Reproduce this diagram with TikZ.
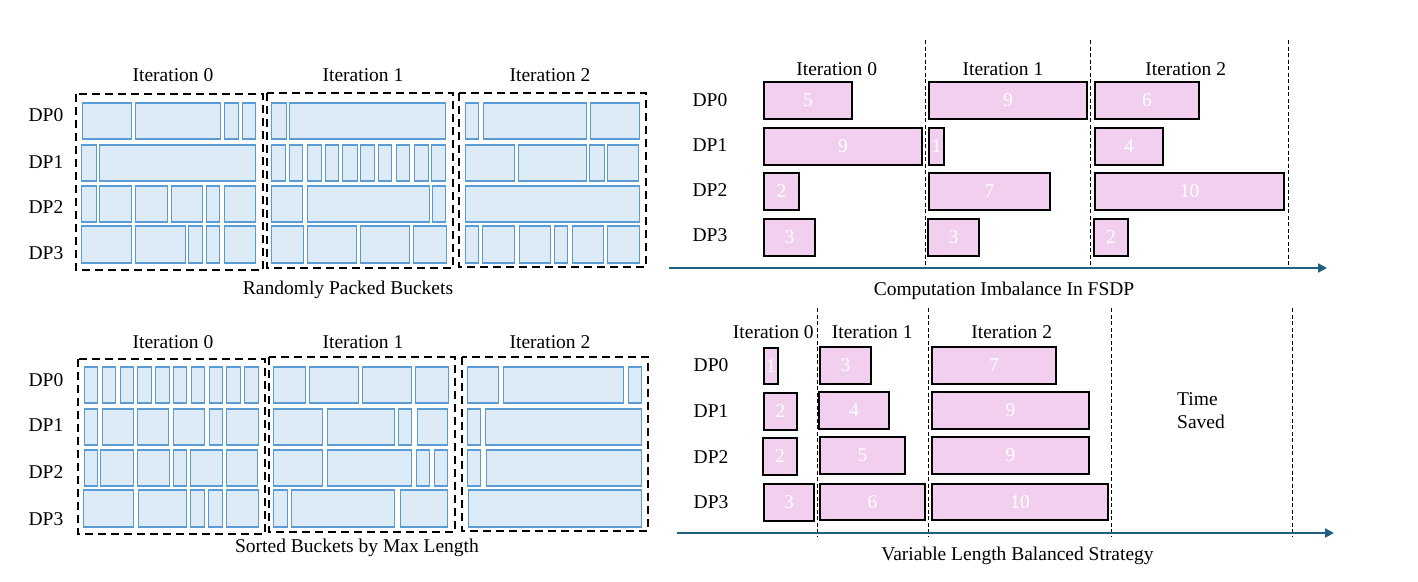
\documentclass[tikz,border=0pt]{standalone}
\usepackage{fontspec}
\setmainfont{Liberation Serif}
\usetikzlibrary{arrows.meta,positioning,fit}
\definecolor{bucketfill}{RGB}{221,235,247}
\definecolor{bucketline}{RGB}{91,155,213}
\definecolor{jobfill}{RGB}{242,207,238}
\definecolor{axisblue}{RGB}{31,95,130}

\begin{document}
\begin{tikzpicture}[
    x=1pt, y=-1pt,
    >=Stealth,
    every node/.style={font=\fontsize{19.5}{23}\selectfont},
    lbl/.style={inner sep=0pt},
    num/.style={inner sep=0pt, text=white},
    bucket/.style={draw=bucketline, fill=bucketfill, line width=1.3pt},
    group/.style={draw=black, dash pattern=on 8pt off 5pt, line width=2.8pt},
    job/.style={draw=black, fill=jobfill, line width=1.3pt, inner sep=0pt},
    sep/.style={draw=black, dash pattern=on 4pt off 2.5pt, line width=1.2pt},
    axis/.style={draw=axisblue, line width=2.8pt,
      -{Triangle[length=9pt,width=9pt]}}
  ]
  \useasboundingbox (0,0) rectangle (1418,581);

  % left: buckets per DP rank
  \foreach \ya/\yb/\cells in {
      103/139/{82/132,135/221,224/239,242/256,271/287,289/446,465/479,483/587,590/640},
      145/181/{81/97,99/256,271/286,289/303,307/322,325/339,342/358,360/375,378/392,396/410,414/429,431/446,465/515,518/587,589/605,607/639},
      186/222/{81/97,99/132,135/168,171/203,206/220,224/256,271/303,307/430,432/446,465/640},
      226/263/{81/132,135/186,188/203,206/220,224/256,271/304,307/357,360/410,413/447,465/479,482/515,519/551,554/568,572/604,607/640},
      367/403/{84/98,102/116,120/134,137/152,155/170,173/187,191/205,209/223,226/241,244/259,273/306,309/359,362/412,415/449,467/499,503/624,628/642},
      409/445/{84/98,102/134,137/169,173/205,209/223,226/259,273/323,327/395,398/412,417/448,467/481,485/642},
      450/486/{84/98,100/134,137/170,173/187,190/223,226/258,273/323,327/412,416/430,434/448,467/481,486/642},
      490/527/{83/134,138/187,190/205,208/223,226/259,273/288,291/395,400/448,468/642}}
  {\foreach \xa/\xb in \cells {\draw[bucket] (\xa+0.5,\ya) rectangle (\xb-0.5,\yb);}}

  \draw[group] (76,94) rectangle (263,270);
  \draw[group] (267,93) rectangle (453,268);
  \draw[group] (459,93) rectangle (646,267);
  \draw[group] (78,359) rectangle (265,534);
  \draw[group] (269,357) rectangle (455,532);
  \draw[group] (462,357) rectangle (648,531);

  \foreach \i/\x in {0/173,1/363,2/550} {
    \node[lbl, anchor=base] (rit\i) at (\x,81) {Iteration \i};
    \node[lbl, anchor=base] (sit\i) at (\x,348.3) {Iteration \i};
  }
  \foreach \i/\ya/\yb in {0/121.7/386.7,1/168.3/431.7,2/213.3/478.3,3/259/525} {
    \node[lbl, anchor=base] (rdp\i) at (46,\ya) {DP\i};
    \node[lbl, anchor=base] (sdp\i) at (46,\yb) {DP\i};
  }
  \node[lbl, anchor=base] (rcap) at (348,294) {Randomly Packed Buckets};
  \node[lbl, anchor=base] (scap) at (357,552) {Sorted Buckets by Max Length};

  % right top: computation imbalance
  \foreach \n/\x in {a/925.7,b/1090.3,c/1288.3} {
    \coordinate (fs\n) at (\x,40);
    \coordinate (fe\n) at (\x,268);
    \draw[sep] (fs\n) -- (fe\n);
  }
  \foreach \n/\xa/\ya/\xb/\yb/\t in {
      f00/764/82/852/119/5, f01/764/128/922/165/9, f02/764/173/799/210/2,
      f03/764/219/815/256/3, f10/929/82/1087/119/9, f11/929/128/944/165/1,
      f12/929/173/1050/210/7, f13/928/219/979/256/3, f20/1095/82/1199/119/6,
      f21/1095/128/1163/165/4, f22/1095/173/1284/210/10, f23/1094/219/1128/256/2}
    \node[job, fit={(\xa,\ya) (\xb,\yb)}, label={[num]center:\t}] (\n) {};
  \coordinate (fax0) at (669,268);
  \coordinate (fax1) at (1327,268);
  \draw[axis] (fax0) -- (fax1);
  \node[lbl, anchor=base] (fit0) at (836.7,75) {Iteration 0};
  \node[lbl, anchor=base] (fit1) at (1003,75) {Iteration 1};
  \node[lbl, anchor=base] (fit2) at (1185.7,75) {Iteration 2};
  \foreach \i/\y in {0/106,1/151,2/196.7,3/241.7}
    \node[lbl, anchor=base] (fdp\i) at (710,\y) {DP\i};
  \node[lbl, anchor=base] (fcap) at (1004,295.5) {Computation Imbalance In FSDP};

  % right bottom: balanced strategy
  \foreach \n/\x in {a/817.3,b/928.3,c/1111.7,d/1292.3} {
    \coordinate (vs\n) at (\x,308);
    \coordinate (ve\n) at (\x,536);
    \draw[sep] (vs\n) -- (ve\n);
  }
  \foreach \n/\xa/\ya/\xb/\yb/\t in {
      v00/764/348/778/384/1, v01/764/393/797/430/2, v02/763/438/797/475/2,
      v03/764/484/814/521/3, v10/820/347/871/384/3, v11/819/392/889/429/4,
      v12/820/437/905/474/5, v13/820/484/925/520/6, v20/932/347/1056/384/7,
      v21/932/392/1089/429/9, v22/932/437/1089/474/9, v23/932/484/1108/520/10}
    \node[job, fit={(\xa,\ya) (\xb,\yb)}, label={[num]center:\t}] (\n) {};
  \coordinate (vax0) at (676.7,533);
  \coordinate (vax1) at (1334,533);
  \draw[axis] (vax0) -- (vax1);
  \node[lbl, anchor=base] (vit0) at (773.3,338.3) {Iteration 0};
  \node[lbl, anchor=base] (vit1) at (872.2,338.3) {Iteration 1};
  \node[lbl, anchor=base] (vit2) at (1011.7,338.3) {Iteration 2};
  \foreach \i/\y in {0/371.7,1/417.7,2/463.3,3/508.3}
    \node[lbl, anchor=base] (vdp\i) at (711,\y) {DP\i};
  \node[lbl, anchor=west, align=left] (saved) at (1177,411) {Time\\Saved};
  \node[lbl, anchor=base] (vcap) at (1017.5,560) {Variable Length Balanced Strategy};
\end{tikzpicture}
\end{document}
